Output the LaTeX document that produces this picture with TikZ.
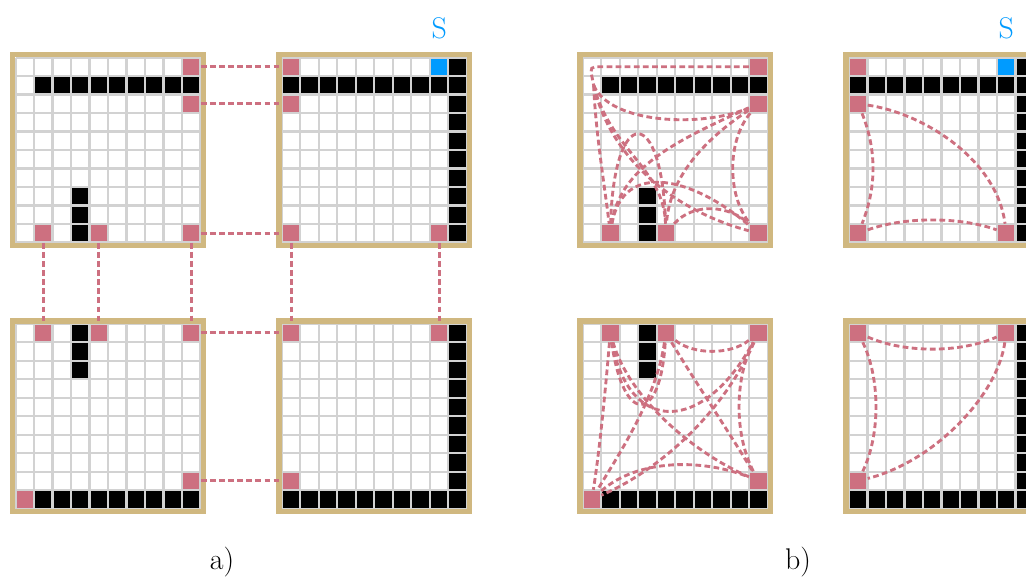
\documentclass[tikz,border=0pt]{standalone}
\usepackage{tikz}
\usepackage{xcolor}
\usetikzlibrary{positioning}
\definecolor{cRim}{RGB}{208,184,128}
\definecolor{cDoor}{RGB}{205,112,128}
\definecolor{cSeam}{RGB}{210,210,210}
\definecolor{cGoal}{RGB}{0,155,255}

\begin{document}
\begin{tikzpicture}[x=0.5cm,y=-0.5cm,
  seam/.style={draw=cSeam,line width=1.6pt},
  rim/.style={draw=cRim,line width=4.2pt},
  door/.style={rectangle,fill=cDoor,inner sep=0pt,minimum size=0.5cm},
  goal/.style={rectangle,fill=cGoal,inner sep=0pt,minimum size=0.5cm},
  link/.style={draw=cDoor,line width=2.2pt,dash pattern=on 4.4pt off 2.6pt},
  tag/.style={inner sep=0pt,font=\fontsize{23}{27}\selectfont}]
  \useasboundingbox (0,0) rectangle (55.46,31.14); \clip (0,0) rectangle (55.46,31.14);
  \fill[white] (0,0) rectangle (55.46,31.14);
  \foreach \p/\dx in {a/0,b/30.65} {
    \begin{scope}[shift={(0.84+\dx,3.11)}]
      \foreach \c in {1,...,9} \fill (\c,1) rectangle ++(1,1);
      \foreach \r in {7,8,9} \fill (3,\r) rectangle ++(1,1);
      \node[door] (\p1-1) at (9.5,0.5) {}; \node[door] (\p1-2) at (9.5,2.5) {};
      \node[door] (\p1-3) at (1.5,9.5) {}; \node[door] (\p1-4) at (4.5,9.5) {}; \node[door] (\p1-5) at (9.5,9.5) {};
    \end{scope}
    \begin{scope}[shift={(15.24+\dx,3.11)}]
      \fill (9,0) rectangle ++(1,1);
      \foreach \c in {0,...,9} \fill (\c,1) rectangle ++(1,1);
      \foreach \r in {2,...,9} \fill (9,\r) rectangle ++(1,1);
      \node[goal] (\p2-g) at (8.5,0.5) {};
      \node[door] (\p2-1) at (0.5,0.5) {}; \node[door] (\p2-2) at (0.5,2.5) {};
      \node[door] (\p2-3) at (0.5,9.5) {}; \node[door] (\p2-4) at (8.5,9.5) {};
    \end{scope}
    \node[tag,text=cGoal,above=0.5cm of \p2-g] (\p2-s) {S};
    \begin{scope}[shift={(0.84+\dx,17.49)}]
      \foreach \r in {0,1,2} \fill (3,\r) rectangle ++(1,1);
      \foreach \c in {1,...,9} \fill (\c,9) rectangle ++(1,1);
      \node[door] (\p3-1) at (1.5,0.5) {}; \node[door] (\p3-2) at (4.5,0.5) {}; \node[door] (\p3-3) at (9.5,0.5) {};
      \node[door] (\p3-4) at (9.5,8.5) {}; \node[door] (\p3-5) at (0.5,9.5) {};
    \end{scope}
    \begin{scope}[shift={(15.24+\dx,17.49)}]
      \foreach \r in {0,...,9} \fill (9,\r) rectangle ++(1,1);
      \foreach \c in {0,...,8} \fill (\c,9) rectangle ++(1,1);
      \node[door] (\p4-1) at (0.5,0.5) {}; \node[door] (\p4-2) at (8.5,0.5) {}; \node[door] (\p4-3) at (0.5,8.5) {};
    \end{scope}
  }
  \foreach \x/\y in {0.84/3.11,15.24/3.11,0.84/17.49,15.24/17.49,31.49/3.11,45.89/3.11,31.49/17.49,45.89/17.49} {
    \begin{scope}[shift={(\x,\y)}]
      \foreach \i in {0,...,10} {\draw[seam] (\i,0) -- (\i,10); \draw[seam] (0,\i) -- (10,\i);}
      \draw[rim] (-0.15,-0.15) rectangle (10.15,10.15);
    \end{scope}
  }
  \draw[link] (a1-1) -- (a2-1); \draw[link] (a1-2) -- (a2-2); \draw[link] (a1-5) -- (a2-3);
  \draw[link] (a1-3) -- (a3-1); \draw[link] (a1-4) -- (a3-2); \draw[link] (a1-5) -- (a3-3);
  \draw[link] (a2-3) -- (a4-1); \draw[link] (a2-4) -- (a4-2);
  \draw[link] (a3-3) -- (a4-1); \draw[link] (a3-4) -- (a4-3);
  \begin{scope}[shift={(31.49,3.11)}]
    \coordinate (b1-c) at (0.4,0.5); \coordinate (b1-f) at (0.6,1.5);
    \draw[link,rounded corners=4pt] (b1-1) -- (b1-c) -- (b1-f);
    \draw[link] (b1-f) .. controls (1.5,3.6) and (6.5,3.8) .. (b1-2);
    \draw[link] (b1-f) .. controls (0.7,4) and (1.2,7) .. (b1-3);
    \draw[link] (b1-f) .. controls (1.5,5) and (4.4,6) .. (b1-4);
    \draw[link] (b1-f) .. controls (1.5,5.5) and (5,8.3) .. (b1-5);
    \draw[link] (b1-2) .. controls (5,4.5) and (2,6) .. (b1-3);
    \draw[link] (b1-2) .. controls (6.5,4.5) and (4.7,6.5) .. (b1-4);
    \draw[link] (b1-2) .. controls (7.8,4.5) and (7.8,7.5) .. (b1-5);
    \draw[link] (b1-3) .. controls (1.7,2.5) and (4.3,2.5) .. (b1-4);
    \draw[link] (b1-3) .. controls (2.2,5.5) and (6,6.5) .. (b1-5);
    \draw[link] (b1-4) .. controls (6,7.8) and (8,8) .. (b1-5);
  \end{scope}
  \begin{scope}[shift={(45.89,3.11)}]
    \draw[link] (b2-2) .. controls (1.5,5) and (1.5,7) .. (b2-3);
    \draw[link] (b2-3) .. controls (3,8.6) and (6,8.6) .. (b2-4);
    \draw[link] (b2-2) .. controls (4,3) and (8,5.5) .. (b2-4);
  \end{scope}
  \begin{scope}[shift={(31.49,17.49)}]
    \draw[link] (b3-1) .. controls (2.2,5.5) and (4.2,5.5) .. (b3-2);
    \draw[link] (b3-1) .. controls (2.5,6) and (6.5,6) .. (b3-3);
    \draw[link] (b3-1) .. controls (2.5,4) and (6,7) .. (b3-4);
    \draw[link] (b3-1) .. controls (1.2,4) and (0.9,7) .. (b3-5);
    \draw[link] (b3-2) .. controls (6,1.7) and (8,1.7) .. (b3-3);
    \draw[link] (b3-2) .. controls (6,3) and (8,6) .. (b3-4);
    \draw[link] (b3-2) .. controls (4,4) and (2,7) .. (b3-5);
    \draw[link] (b3-3) .. controls (8.2,3) and (8.2,6) .. (b3-4);
    \draw[link] (b3-3) .. controls (7.5,5) and (4,8) .. (b3-5);
    \draw[link] (b3-5) .. controls (3,7.3) and (6.5,7.3) .. (b3-4);
  \end{scope}
  \begin{scope}[shift={(45.89,17.49)}]
    \draw[link] (b4-1) .. controls (3,1.6) and (6,1.6) .. (b4-2);
    \draw[link] (b4-1) .. controls (1.7,3) and (1.7,6) .. (b4-3);
    \draw[link] (b4-2) .. controls (8,4) and (4.5,7.5) .. (b4-3);
  \end{scope}
  \node[tag] (la) at (12.0,30.4) {a)}; \node[tag] (lb) at (43.14,30.4) {b)};
\end{tikzpicture}
\end{document}
